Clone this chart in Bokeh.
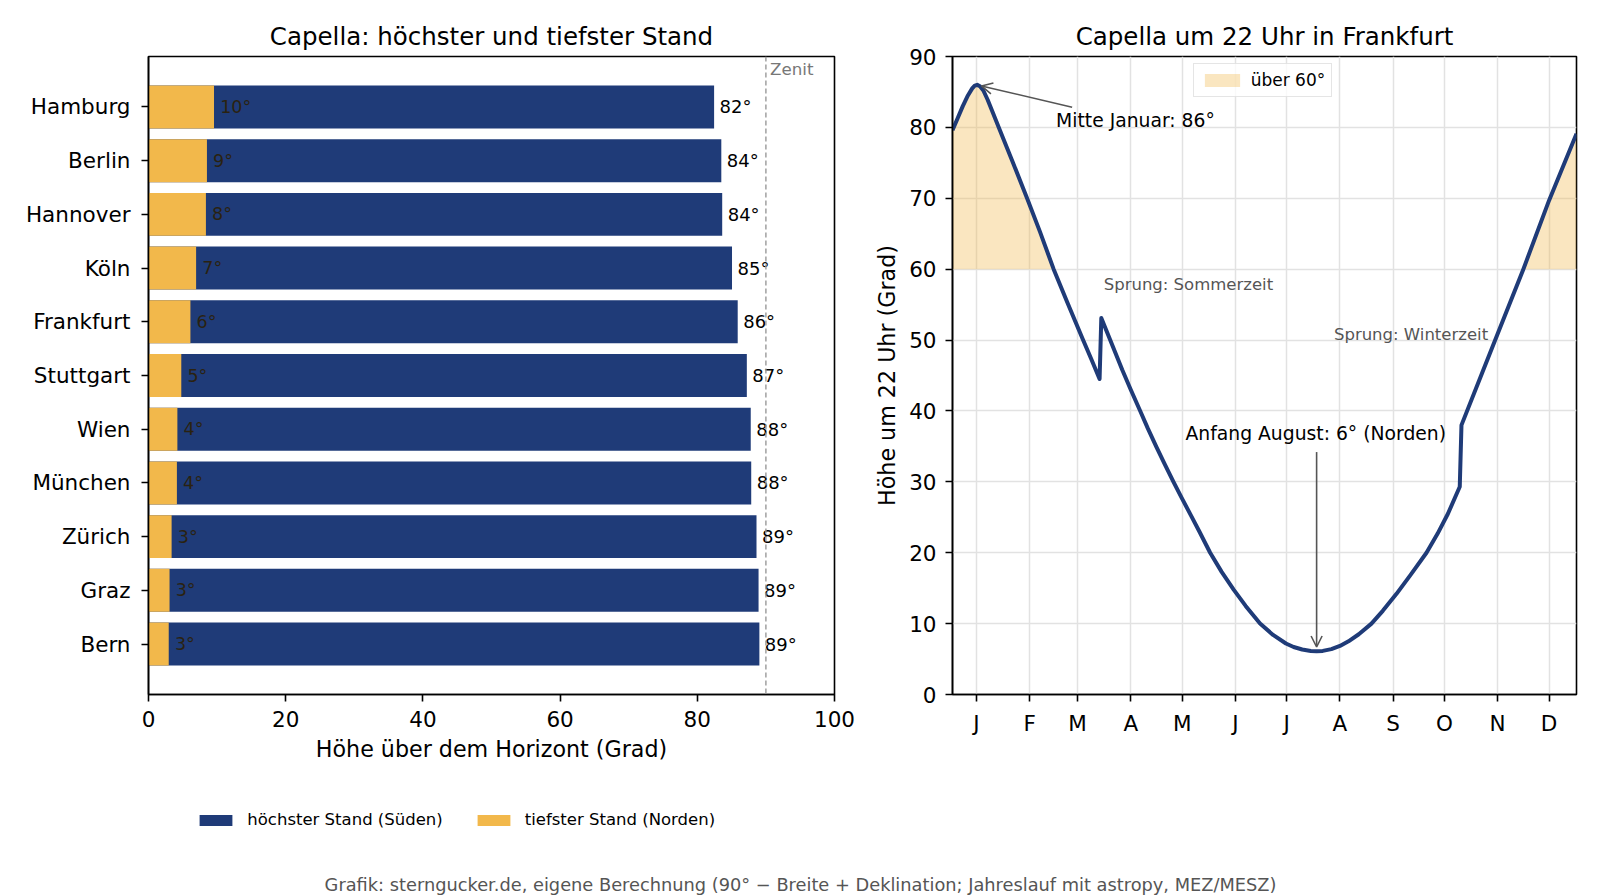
import numpy as np
from bokeh.plotting import figure
from bokeh.models import (Range1d, FixedTicker, Span, Label, Legend, LegendItem,
                          Arrow, OpenHead, ColumnDataSource)
from bokeh.layouts import row, column
from bokeh.embed import file_html
from bokeh.resources import INLINE
from bokeh.core.properties import value

FONT = "DejaVu Sans"
NAVY = "#1F3B78"
GOLD = "#F2B84B"

# ---------------- data: left chart ----------------
staedte = ["Hamburg", "Berlin", "Hannover", "Köln", "Frankfurt", "Stuttgart",
           "Wien", "München", "Zürich", "Graz", "Bern"]
hoechster_stand = [82.45, 83.5, 83.63, 85.06, 85.89, 87.22, 87.79, 87.86, 88.63, 88.93, 89.05]
tiefster_stand = [9.55, 8.52, 8.37, 6.94, 6.11, 4.78, 4.21, 4.14, 3.37, 3.07, 2.95]
hoechster_text = ["82°", "84°", "84°", "85°", "86°", "87°", "88°", "88°", "89°", "89°", "89°"]
tiefster_text = ["10°", "9°", "8°", "7°", "6°", "5°", "4°", "4°", "3°", "3°", "3°"]
zenit = 90
x_ticks_links = [0, 20, 40, 60, 80, 100]

# ---------------- data: right chart ----------------
tag_im_jahr = [1, 4, 7, 10, 12.5, 14, 15.4, 17, 19, 21.5, 24.5, 28, 36, 44.5, 52, 60,
               68, 77, 82, 86.8, 87.8, 93, 100, 105, 110.5, 115, 120, 125, 129.9, 135,
               140, 145, 151.3, 158, 165, 172, 180.4, 188, 195.5, 200, 205, 210, 213.4,
               217, 222, 227, 232, 238, 245.4, 252, 260, 268, 277.5, 284, 290, 296.9,
               297.9, 310, 320, 334, 349, 365]
hoehe_22uhr = [79.6, 81.3, 83.0, 84.5, 85.5, 85.9, 86.0, 85.8, 85.2, 83.9, 82.1, 80.0,
               75.2, 70.0, 65.3, 60.0, 55.3, 50.1, 47.3, 44.5, 53.1, 50.0, 45.8, 43.0,
               40.0, 37.5, 34.9, 32.4, 30.0, 27.6, 25.3, 23.0, 20.0, 17.3, 14.8, 12.5,
               10.0, 8.4, 7.2, 6.7, 6.35, 6.15, 6.1, 6.15, 6.4, 6.85, 7.5, 8.5, 10.0,
               11.8, 14.2, 16.8, 20.0, 22.7, 25.5, 29.3, 38.0, 45.4, 51.5, 60.0, 69.7, 79.1]
monat_tage = [15, 46, 74, 105, 135, 166, 196, 227, 258, 288, 319, 349]
monat_labels = ["J", "F", "M", "A", "M", "J", "J", "A", "S", "O", "N", "D"]
y_ticks_rechts = [0, 10, 20, 30, 40, 50, 60, 70, 80, 90]
schwelle = 60

FOOTER = ("Grafik: sterngucker.de, eigene Berechnung (90° − Breite + Deklination; "
          "Jahreslauf mit astropy, MEZ/MESZ)")


def style(p):
    for ax in list(p.xaxis) + list(p.yaxis):
        ax.axis_line_color = "black"
        ax.axis_line_width = 1.6
        ax.major_tick_line_color = "black"
        ax.major_tick_line_width = 1.6
        ax.major_tick_out = 7
        ax.major_tick_in = 0
        ax.minor_tick_line_color = None
        ax.major_label_text_font = FONT
        ax.major_label_text_font_size = "21.5px"
        ax.major_label_text_color = "black"
        ax.major_label_standoff = 9
        ax.axis_label_text_font = FONT
        ax.axis_label_text_font_size = "22.2px"
        ax.axis_label_text_font_style = "normal"
        ax.axis_label_text_color = "black"
        ax.axis_label_standoff = 6
    p.outline_line_color = "black"
    p.outline_line_width = 1.6
    p.outline_line_alpha = 1.0
    p.title.text_font = FONT
    p.title.text_font_size = "24.5px"
    p.title.text_font_style = "normal"
    p.title.text_color = "black"
    p.title.align = "center"
    p.title.standoff = 12
    p.background_fill_color = "white"
    p.border_fill_color = "white"


# ---------------- left chart ----------------
n = len(staedte)
ypos = [n - 1 - i for i in range(n)]
src = ColumnDataSource(dict(
    y=ypos, hoch=hoechster_stand, tief=tiefster_stand,
    hoch_txt=hoechster_text, tief_txt=tiefster_text,
    hoch_x=[v + 0.8 for v in hoechster_stand],
    tief_x=[v + 0.9 for v in tiefster_stand],
))

left = figure(width=868, height=790, title="Capella: höchster und tiefster Stand",
              x_range=Range1d(0, 100), y_range=Range1d(-0.94, n - 1 + 0.94),
              output_backend="svg", toolbar_location=None,
              min_border_left=148, min_border_right=34, min_border_top=56,
              min_border_bottom=96)
style(left)
left.yaxis.major_label_standoff = 11
left.xgrid.visible = False
left.ygrid.visible = False

r_hoch = left.hbar(y="y", left=0, right="hoch", height=0.8, source=src,
                   fill_color=NAVY, line_color=None)
r_tief = left.hbar(y="y", left=0, right="tief", height=0.8, source=src,
                   fill_color=GOLD, line_color=None)
left.text(x="hoch_x", y="y", text="hoch_txt", source=src, text_font=value(FONT),
          text_font_size="18px", text_baseline="middle", text_align="left",
          text_color="black")
left.text(x="tief_x", y="y", text="tief_txt", source=src, text_font=value(FONT),
          text_font_size="17.5px", text_baseline="middle", text_align="left",
          text_color="#2a2210")

left.add_layout(Span(location=zenit, dimension="height", line_color="#999999",
                     line_dash="5 3", line_width=1.4))
left.add_layout(Label(x=zenit + 0.6, y=n - 1 + 0.71, text="Zenit", text_font=FONT,
                      text_font_size="16.7px", text_color="#777777",
                      text_baseline="middle", text_align="left"))

left.xaxis.ticker = FixedTicker(ticks=x_ticks_links)
left.yaxis.ticker = FixedTicker(ticks=ypos)
left.yaxis.major_label_overrides = {yv: s for yv, s in zip(ypos, staedte)}
left.xaxis.axis_label = "Höhe über dem Horizont (Grad)"

# ---------------- right chart ----------------
right = figure(width=732, height=790, title="Capella um 22 Uhr in Frankfurt",
               x_range=Range1d(1, 365), y_range=Range1d(0, 90),
               output_backend="svg", toolbar_location=None,
               min_border_left=84, min_border_right=24, min_border_top=56,
               min_border_bottom=96)
style(right)
right.yaxis.axis_label_standoff = 6
right.xaxis.ticker = FixedTicker(ticks=monat_tage)
right.xaxis.major_label_overrides = {d: m for d, m in zip(monat_tage, monat_labels)}
right.yaxis.ticker = FixedTicker(ticks=y_ticks_rechts)
right.yaxis.axis_label = "Höhe um 22 Uhr (Grad)"
right.xgrid.ticker = FixedTicker(ticks=monat_tage)
right.ygrid.ticker = FixedTicker(ticks=y_ticks_rechts)
for g in (right.xgrid, right.ygrid):
    g.grid_line_color = "#e2e2e2"
    g.grid_line_width = 1.5

hoehe_arr = np.array(hoehe_22uhr)
r_fill = right.varea(x=tag_im_jahr, y1=[schwelle] * len(tag_im_jahr),
                     y2=np.maximum(hoehe_arr, schwelle), fill_color=GOLD, fill_alpha=0.35)
right.line(tag_im_jahr, hoehe_22uhr, line_color=NAVY, line_width=4, line_join="round")

i_max = int(np.argmax(hoehe_arr))
i_min = int(np.argmin(hoehe_arr))
t_max, h_max = tag_im_jahr[i_max], hoehe_22uhr[i_max]
t_min, h_min = tag_im_jahr[i_min], hoehe_22uhr[i_min]

right.add_layout(Arrow(end=OpenHead(size=11, line_color="#555555", line_width=1.6),
                       x_start=70.8, y_start=82.85, x_end=t_max + 2.5, y_end=h_max - 0.15,
                       line_color="#555555", line_width=1.6))
right.add_layout(Label(x=61.4, y=81.0, text=f"Mitte Januar: {round(h_max)}°",
                       text_font=FONT, text_font_size="18.75px", text_color="black",
                       text_align="left", text_baseline="middle"))

right.add_layout(Arrow(end=OpenHead(size=11, line_color="#555555", line_width=1.6),
                       x_start=t_min, y_start=34.2, x_end=t_min, y_end=h_min + 0.6,
                       line_color="#555555", line_width=1.6))
right.add_layout(Label(x=212.9, y=36.85, text=f"Anfang August: {round(h_min)}° (Norden)",
                       text_font=FONT, text_font_size="18.75px", text_color="black",
                       text_align="center", text_baseline="middle"))

right.add_layout(Label(x=89.2, y=57.8, text="Sprung: Sommerzeit", text_font=FONT,
                       text_font_size="16.5px", text_color="#555555",
                       text_align="left", text_baseline="middle"))
right.add_layout(Label(x=223.5, y=50.85, text="Sprung: Winterzeit", text_font=FONT,
                       text_font_size="16.5px", text_color="#555555",
                       text_align="left", text_baseline="middle"))

leg_right = Legend(items=[LegendItem(label="über 60°", renderers=[r_fill])],
                   location=(240.7, 597), padding=6, margin=0,
                   label_standoff=7, glyph_width=44, glyph_height=16, label_height=20,
                   border_line_color="#cccccc", border_line_width=1.5,
                   background_fill_color="white", background_fill_alpha=0.8,
                   label_text_font=FONT, label_text_font_size="17px",
                   label_text_color="black")
right.add_layout(leg_right, "center")

# ---------------- bottom strip: legend of the bar chart + source line ----------------
# the bar renderers below reuse the bar data; the strip's y range keeps them out of view,
# they only supply the legend swatches
foot = figure(width=1600, height=106, title=None, x_range=Range1d(0, 100),
              y_range=Range1d(50, 51), output_backend="svg", toolbar_location=None,
              min_border=0, x_axis_type=None, y_axis_type=None)
foot.outline_line_color = None
foot.background_fill_color = "white"
foot.border_fill_color = "white"
p_hoch = foot.hbar(y="y", left=0, right="hoch", height=0.8, source=src,
                   fill_color=NAVY, line_color=None)
p_tief = foot.hbar(y="y", left=0, right="tief", height=0.8, source=src,
                   fill_color=GOLD, line_color=None)
leg_left = Legend(items=[LegendItem(label="höchster Stand (Süden)", renderers=[p_hoch]),
                         LegendItem(label="tiefster Stand (Norden)", renderers=[p_tief])],
                  orientation="horizontal", location=(195.3, 66.5),
                  border_line_color=None, background_fill_alpha=0.0,
                  padding=0, margin=0, spacing=30, label_standoff=11,
                  glyph_width=41, glyph_height=14, label_height=20,
                  label_text_font=FONT, label_text_font_size="16.5px",
                  label_text_color="black")
foot.add_layout(leg_left, "center")
foot.add_layout(Label(x=800, y=12.5, x_units="screen", y_units="screen", text=FOOTER,
                      text_font=FONT, text_font_size="17.8px", text_color="#555555",
                      text_align="center", text_baseline="middle"))

layout = column(row(left, right), foot)
open("out.html", "w").write(file_html(layout, INLINE, "Capella"))
